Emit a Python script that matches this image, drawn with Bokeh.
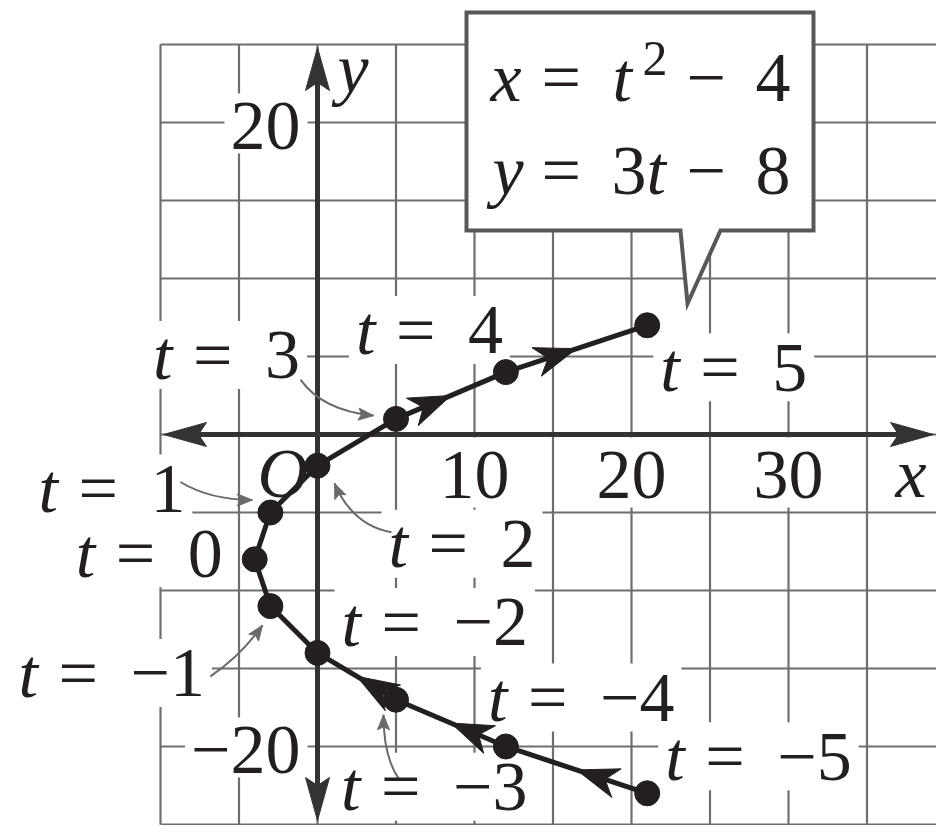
import math
from bokeh.plotting import figure
from bokeh.models import Range1d
from bokeh.embed import file_html
from bokeh.resources import INLINE
from bokeh.core.properties import value

# Points of the curve x = t^2 - 4, y = 3t - 8 for integer t
t_vals = [-5, -4, -3, -2, -1, 0, 1, 2, 3, 4, 5]
x_vals = [21, 12, 5, 0, -3, -4, -3, 0, 5, 12, 21]
y_vals = [-23, -20, -17, -14, -11, -8, -5, -2, 1, 4, 7]

# segments (starting at these t) that carry a direction arrow
arrow_from_t = [-5, -4, -3, 3, 4]

# labels that get a small pointer arrow to their point
pointer_t = [3, 1, 2, -1, -3]

x_tick_vals = [10, 20, 30]
y_tick_vals = [20, -20]
grid_x_vals = [-10, -5, 0, 5, 10, 15, 20, 25, 30, 35]
grid_y_vals = [-25, -20, -15, -10, -5, 0, 5, 10, 15, 20, 25]

# ---------------- layout ----------------
W, H = 936, 825
X0, Y0 = 317.0, 434.0      # canvas position of the origin
PXX, PXY = 15.7, 15.6      # pixels per unit along x and y
FS = 70                    # main font size (px)
SUP = 50                   # superscript font size (px)
RAISE = 0.34               # baseline correction, fraction of font size
FONT = value("Liberation Serif")
INK = "#231f20"
GRID = "#6e6e6e"


def to_px(x, y):
    return X0 + PXX * x, Y0 - PXY * y


def to_data(px, py):
    return (px - X0) / PXX, (Y0 - py) / PXY


def head(tip, u, length, half_w, notch):
    """Barbed arrow head polygon (screen px) converted to data coords."""
    tx, ty = tip
    ux, uy = u
    nx, ny = -uy, ux
    bx, by = tx - ux * length, ty - uy * length
    pts = [(tx, ty),
           (bx + nx * half_w, by + ny * half_w),
           (tx - ux * (length - notch), ty - uy * (length - notch)),
           (bx - nx * half_w, by - ny * half_w)]
    d = [to_data(*q) for q in pts]
    return [q[0] for q in d], [q[1] for q in d]


def text_width(s, size):
    w = 0.0
    for c in s:
        if c.isdigit():
            w += 0.5
        elif c in "−=":
            w += 0.564
        else:
            w += 0.3
    return w * size


x_start, _ = to_data(0, 0)
x_end, y_end = to_data(W, 0)
_, y_start = to_data(0, H)

p = figure(width=W, height=H, x_range=Range1d(x_start, x_end),
           y_range=Range1d(y_start, y_end),
           x_axis_location=None, y_axis_location=None,
           toolbar_location=None, output_backend="svg", min_border=0,
           outline_line_color=None, background_fill_color="white",
           border_fill_color="white")
p.xgrid.visible = False
p.ygrid.visible = False

# ---------------- grid ----------------
gx0, gx1 = grid_x_vals[0], x_end
gy0, gy1 = grid_y_vals[0], grid_y_vals[-1]
p.segment(x0=grid_x_vals, x1=grid_x_vals, y0=[gy0] * len(grid_x_vals),
          y1=[gy1] * len(grid_x_vals), line_color=GRID, line_width=2.2)
p.segment(x0=[gx0] * len(grid_y_vals), x1=[gx1] * len(grid_y_vals),
          y0=grid_y_vals, y1=grid_y_vals, line_color=GRID, line_width=2.2)

# ---------------- callout with the equations ----------------
box_px = [(466, 12), (813, 12), (813, 230), (720, 230), (687, 303),
          (680, 230), (466, 230)]
box = [to_data(*q) for q in box_px]
p.patch([q[0] for q in box], [q[1] for q in box], fill_color="white",
        line_color="#585858", line_width=4, line_join="miter")

# ---------------- text pieces ----------------
ital = {"x": [], "y": [], "text": []}
upr = {"x": [], "y": [], "text": []}
sup = {"x": [], "y": [], "text": []}
upr_c = {"x": [], "y": [], "text": []}
upr_r = {"x": [], "y": [], "text": []}
oxy = {"x": [], "y": [], "text": []}
bg = {"left": [], "right": [], "top": [], "bottom": []}


def put(group, px, py, s, size=FS):
    dx, dy = to_data(px, py - RAISE * size)
    group["x"].append(dx)
    group["y"].append(dy)
    group["text"].append(s)


def add_bg(l, r, t, b):
    xl, yt = to_data(l, t)
    xr, yb = to_data(r, b)
    bg["left"].append(xl)
    bg["right"].append(xr)
    bg["top"].append(yt)
    bg["bottom"].append(yb)


# equations inside the callout
put(ital, 490, 101, "x"); put(upr, 541, 101, "=")
put(ital, 612, 101, "t"); put(sup, 642, 75, "2", SUP)
put(upr, 686, 101, "−"); put(upr, 755, 101, "4")
put(ital, 492, 194, "y"); put(upr, 541, 194, "=")
put(upr, 611, 194, "3"); put(ital, 646, 194, "t")
put(upr, 686, 194, "−"); put(upr, 755, 194, "8")

# t labels: offset (px) from each point to the left/baseline of the label
label_offset = {-5: (18, -13), -4: (-18, -25), -3: (-55, 111), -2: (24, -7),
                -1: (-252, 91), 0: (-179, 18), 1: (-232, 0), 2: (71, 102),
                3: (-243, -40), 4: (-150, -18), 5: (13, 66)}
for t, xv, yv in zip(t_vals, x_vals, y_vals):
    px, py = to_px(xv, yv)
    ox, oy = label_offset[t]
    ax, ay = px + ox, py + oy
    num = str(t).replace("-", "−")
    put(ital, ax, ay, "t")
    put(upr, ax + 40, ay, "=")
    put(upr, ax + 112, ay, num)
    add_bg(ax - 7, ax + 112 + text_width(num, FS) + 7, ay - 58, ay + 10)

# tick labels
for v in x_tick_vals:
    cx, _ = to_px(v, 0)
    base = Y0 + 64
    put(upr_c, cx, base, str(v))
    w = text_width(str(v), FS)
    add_bg(cx - w / 2 - 6, cx + w / 2 + 6, base - 61, base + 9)
for v in y_tick_vals:
    _, gy = to_px(0, v)
    base = gy + 27
    s = str(v).replace("-", "−")
    put(upr_r, X0 - 17, base, s)
    w = text_width(s, FS)
    add_bg(X0 - 17 - w - 6, X0 - 10, base - 56, base + 4)

p.quad(left="left", right="right", top="top", bottom="bottom", source=bg,
       fill_color="white", line_color=None)

# ---------------- axes with arrow heads ----------------
AX = "#333333"
lx = to_data(163 + 30, Y0)[0]
rx = to_data(933 - 30, Y0)[0]
p.segment(x0=[lx], x1=[rx], y0=[0], y1=[0], line_color=AX, line_width=5)
ty_ = to_data(X0, 47 + 30)[1]
by_ = to_data(X0, 820 - 30)[1]
p.segment(x0=[0], x1=[0], y0=[by_], y1=[ty_], line_color=AX, line_width=5)
axis_heads = [head((163, Y0), (-1, 0), 43, 12, 8),
              head((933, Y0), (1, 0), 43, 12, 8),
              head((X0, 47), (0, -1), 43, 12, 8),
              head((X0, 820), (0, 1), 43, 12, 8)]
p.patches([h[0] for h in axis_heads], [h[1] for h in axis_heads],
          fill_color=AX, line_color=AX, line_width=1)

# "O", "x", "y" axis names (drawn beneath the curve)
put(oxy, 257, 497, "O")
put(oxy, 895, 497, "x")
put(oxy, 337, 92, "y")
p.text(x="x", y="y", text="text", source=oxy, text_font=FONT,
       text_font_style="italic", text_font_size=f"{FS}px", text_color=INK,
       text_align="left", text_baseline="alphabetic")

# ---------------- pointer arrows from labels to points ----------------
# (start, control, tip) offsets in px from the target point
pointer_geom = {3: ((-95.5, -39.3), (-73.5, -8.3), (-22.5, -3.3)),
                1: ((-90, -30.5), (-60, -12.5), (-18, -12.5)),
                2: ((74, 66.6), (35, 59.6), (17, 17.6)),
                -1: ((-60, 70.3), (-30, 50.3), (-8, 19.3)),
                -3: ((3.5, 80.1), (-12.5, 58.1), (-12.5, 15.1))}
PT = "#6a6a6a"
qx0, qy0, qx1, qy1, qcx, qcy = [], [], [], [], [], []
ph = []
for t in pointer_t:
    i = t_vals.index(t)
    px, py = to_px(x_vals[i], y_vals[i])
    (s0, s1), (c0, c1), (e0, e1) = pointer_geom[t]
    a = to_data(px + s0, py + s1)
    c = to_data(px + c0, py + c1)
    e = to_data(px + e0, py + e1)
    qx0.append(a[0]); qy0.append(a[1])
    qcx.append(c[0]); qcy.append(c[1])
    qx1.append(e[0]); qy1.append(e[1])
    ux, uy = e0 - c0, e1 - c1
    n = math.hypot(ux, uy)
    ph.append(head((px + e0, py + e1), (ux / n, uy / n), 15, 6, 3))
p.quadratic(x0=qx0, y0=qy0, x1=qx1, y1=qy1, cx=qcx, cy=qcy,
            line_color=PT, line_width=2)
p.patches([h[0] for h in ph], [h[1] for h in ph], fill_color=PT,
          line_color=PT, line_width=1)

# ---------------- the curve ----------------
p.line(x_vals, y_vals, line_color=INK, line_width=5, line_join="round")

dir_heads = []
for t in arrow_from_t:
    i = t_vals.index(t)
    a = to_px(x_vals[i], y_vals[i])
    b = to_px(x_vals[i + 1], y_vals[i + 1])
    vx, vy = b[0] - a[0], b[1] - a[1]
    n = math.hypot(vx, vy)
    tip = (a[0] + 0.5 * vx, a[1] + 0.5 * vy)
    dir_heads.append(head(tip, (vx / n, vy / n), 42, 15, 12))
p.patches([h[0] for h in dir_heads], [h[1] for h in dir_heads],
          fill_color=INK, line_color=INK, line_width=1)

p.scatter(x_vals, y_vals, size=25, fill_color=INK, line_color=INK)

# ---------------- texts ----------------
common = dict(text_font=FONT, text_color=INK, text_baseline="alphabetic")
p.text(x="x", y="y", text="text", source=ital, text_font_style="italic",
       text_font_size=f"{FS}px", text_align="left", **common)
p.text(x="x", y="y", text="text", source=upr, text_font_size=f"{FS}px",
       text_align="left", **common)
p.text(x="x", y="y", text="text", source=sup, text_font_size=f"{SUP}px",
       text_align="left", **common)
p.text(x="x", y="y", text="text", source=upr_c, text_font_size=f"{FS}px",
       text_align="center", **common)
p.text(x="x", y="y", text="text", source=upr_r, text_font_size=f"{FS}px",
       text_align="right", **common)

open("out.html", "w").write(file_html(p, INLINE))
